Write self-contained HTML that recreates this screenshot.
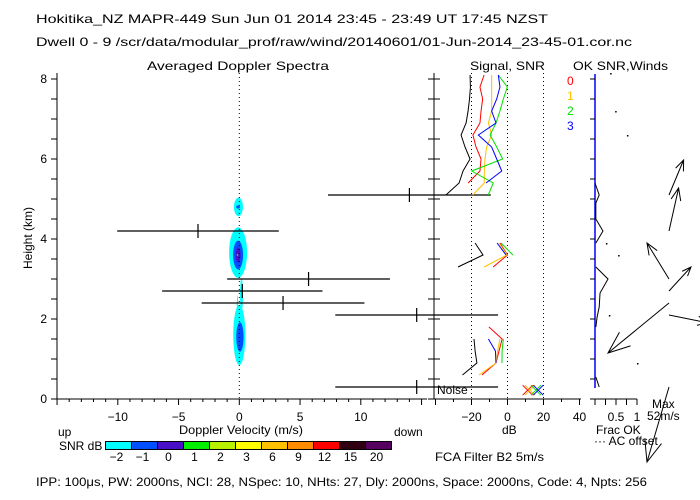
<!DOCTYPE html>
<html><head><meta charset="utf-8"><style>
html,body{margin:0;padding:0;background:#fff;}
svg{display:block;font-family:"Liberation Sans",sans-serif;}
text{font-size:12px;fill:#000;}
</style></head><body>
<svg id="c" width="700" height="500" viewBox="0 0 700 500" xmlns="http://www.w3.org/2000/svg">
<rect width="700" height="500" fill="#fff"/>
<text x="36" y="23" font-size="13" textLength="512" lengthAdjust="spacingAndGlyphs">Hokitika_NZ  MAPR-449  Sun Jun 01 2014 23:45 - 23:49 UT 17:45 NZST</text>
<text x="36" y="46" font-size="13" textLength="596" lengthAdjust="spacingAndGlyphs">Dwell  0 -  9   /scr/data/modular_prof/raw/wind/20140601/01-Jun-2014_23-45-01.cor.nc</text>
<text x="147" y="70" font-size="13" textLength="182" lengthAdjust="spacingAndGlyphs">Averaged Doppler Spectra</text>
<text x="470" y="70" font-size="13" textLength="75" lengthAdjust="spacingAndGlyphs">Signal, SNR</text>
<text x="573" y="70" font-size="13" textLength="95" lengthAdjust="spacingAndGlyphs">OK SNR,Winds</text>
<text transform="translate(32,238) rotate(-90)" text-anchor="middle">Height (km)</text>
<text x="179" y="434" textLength="124" lengthAdjust="spacingAndGlyphs">Doppler Velocity (m/s)</text>
<text x="58" y="436">up</text>
<text x="394" y="436">down</text>
<text x="59" y="450">SNR dB</text>
<text x="502" y="434">dB</text>
<text x="596" y="434">Frac OK</text>
<text x="594" y="445">··· AC offset</text>
<text x="652" y="408">Max</text>
<text x="647" y="420">52m/s</text>
<text x="435" y="461" textLength="109" lengthAdjust="spacingAndGlyphs">FCA Filter B2   5m/s</text>
<text x="437" y="394">Noise</text>
<text x="36" y="486" textLength="611" lengthAdjust="spacingAndGlyphs">IPP: 100μs,  PW: 2000ns,  NCI:  28,  NSpec: 10, NHts: 27,  Dly: 2000ns,  Space: 2000ns,  Code: 4,  Npts: 256</text>
<text x="567" y="85" style="fill:#f00">0</text>
<text x="567" y="100" style="fill:#ffc000">1</text>
<text x="567" y="115" style="fill:#00e000">2</text>
<text x="567" y="130" style="fill:#0000ff">3</text>
</svg>
<script>
// ---------- data ----------
var yTicks = [0,2,4,6,8];
var vTicks = [-10,-5,0,5,10];
var dbTicks = [-20,0,20,40];
var fracTickLabels = [0.5,1];
var cbLabels = ["-2","-1","0","1","2","3","6","9","12","15","20"];
var cbColors = ["#00ffff","#0050ff","#4a10c8","#00f000","#b8f000","#ffff00","#ffc000","#ff8c00","#ff0000","#300010","#560060"];
// spectra blobs: height center, half height (km), velocity center, half width (m/s), level index
var blobH = [4.8,4.8,3.66,3.6,3.6,3.6,2.6,2.22,1.6,1.55];
var blobHH = [0.23,0.04,0.63,0.36,0.19,0.03,0.42,0.37,0.75,0.37];
var blobV = [-0.07,-0.1,-0.1,-0.1,-0.1,-0.15,0.18,-0.15,0.0,0.05];
var blobHW = [0.37,0.15,0.74,0.41,0.2,0.06,0.12,0.06,0.5,0.3];
var blobLvl = [0,1,0,1,2,3,0,0,0,1];
// spectral moment bars
var barH = [5.1,4.2,3.0,2.7,2.4,2.1,0.3];
var barV = [14.0,-3.4,5.7,0.25,3.6,14.6,14.6];
var barHalf = [6.7,6.65,6.7,6.6,6.7,6.7,6.7];
// signal / SNR profiles (dB)
var sigH1 = [8.1,7.8,7.5,7.2,6.9,6.6,6.3,6.0,5.7,5.4,5.1];
var sigBlack1 = [-20.8,-20.6,-21.1,-21.9,-23,-25.8,-23.6,-20.8,-24.7,-26.9,-34.2];
var snr0a = [-13,-15.3,-13.8,-14.7,-15.3,-19.2,-17.5,-14.7,-15.3,-21.9,null];
var snr1a = [-8.8,-8.8,-8.8,-8.8,-10.6,-8.8,-11.6,-12.5,-12.9,-12.9,-19.3];
var snr2a = [-5.1,-0.1,-2.3,-4.2,-6.4,-9.7,-6,-2.7,-19.9,-7.9,-10.7];
var snr3a = [-5.1,-4.2,-6,-8.8,-6.4,-16.2,-8.8,-6,-3.2,-11.9,null];
var sigH2 = [3.9,3.6,3.3];
var sigBlack2 = [-18,-13.6,-27.5];
var snr0b = [-4.2,0,-8];
var snr1b = [-4.7,-0.3,-13];
var snr2b = [-3.6,3,null];
var snr3b = [-5.8,-0.8,null];
var sigH3 = [1.8,1.5,1.2,0.9,0.6];
var sigBlack3 = [null,-18.6,-18,-17,-25];
var snr0c = [-10.3,-3,-4.7,-6.4,-14.2];
var snr1c = [null,-4.2,-5.5,-6.4,-15.8];
var snr2c = [null,-2.3,-3,-3.1,null];
var snr3c = [null,-10.6,-6.7,-6.4,null];
var noiseDb = [11.2,12.5,15.8,17.1];
var noiseH = 0.22;
// winds
var windH = [5.1,4.2,3.0,2.7,2.4,2.1,0.3];
var windU = [7.3,4.8,-11,11,-30.5,20,-11];
var windV = [17.5,21.5,18,12,-25,-4,-37.5];
// fraction OK
var fracH = [5.4,5.1,4.9,4.5,4.2,3.9,null,3.3,3.0,2.65,2.3,2.05,1.8,null,0.55,0.3];
var fracVal = [0,0.1,0.02,0.02,0.19,0.02,null,0.02,0.31,0.12,0.1,0.05,0.02,null,0.02,0.1];
var dotH = [8.15,7.2,6.6,3.9,3.6,2.1,0.9];
var dotF = [0.36,0.48,0.76,0.26,0.55,0.33,1.0];

// ---------- scales ----------
function Y(h){return 399-40*h;}
function XV(v){return 239.3+12.15*v;}
function XD(d){return 507.5+1.8*d;}
function XF(f){return 595+42*f;}
var WS = 2.0;
var svg = document.getElementById('c');
var NS = 'http://www.w3.org/2000/svg';
function mk(tag, a){var e=document.createElementNS(NS,tag);for(var k in a)e.setAttribute(k,a[k]);svg.appendChild(e);return e;}
function line(x1,y1,x2,y2,col,w,dash){var e=mk('line',{x1:x1,y1:y1,x2:x2,y2:y2,stroke:col||'#000','stroke-width':w||1});if(dash)e.setAttribute('stroke-dasharray',dash);return e;}
function txt(x,y,s,anchor,col){var e=mk('text',{x:x,y:y,'text-anchor':anchor||'middle'});if(col)e.style.fill=col;e.textContent=s;return e;}

// spectra blobs
for(var i=0;i<blobH.length;i++){
  var e=mk('ellipse',{cx:XV(blobV[i]),cy:Y(blobH[i]),rx:12.15*blobHW[i],ry:40*blobHH[i],fill:cbColors[blobLvl[i]]});
  
  
}
var z=line(XV(0),73,XV(0),399,'#000',1,'1 3');


[-20,0,20].forEach(function(d){
  var l=line(XD(d),73,XD(d),399,'#000',1,'1 3');
  
  
});
var ax=line(57,73,57,399);
var ax2=line(434,73,434,399);
var bx=line(57,399,427,399);
var bx2=line(434,399,581,399);
var bx3=line(595,399,637,399);
var bl=line(595,74,595,388,'#0000ff',1.5);
for(var h=0;h<=8.01;h+=0.5){
  line(51,Y(h),57,Y(h));line(428,Y(h),440,Y(h));line(590,Y(h),595,Y(h));
}
yTicks.forEach(function(h){var t=txt(47,Y(h)+4,String(h),'end');});
for(var v=-15;v<=15;v++){line(XV(v),399,XV(v),v%5==0?405:402);}
vTicks.forEach(function(v){var t=txt(XV(v),421,String(v).replace('-','−'));});
for(var d=-40;d<=40;d+=10){line(XD(d),399,XD(d),d%20==0?405:402);}
dbTicks.forEach(function(d){var t=txt(XD(d),421,String(d).replace('-','−'));});
for(var f=0;f<=1.001;f+=0.25){line(XF(f),399,XF(f),405);}
fracTickLabels.forEach(function(f){var t=txt(XF(f),421,String(f));});

for(var i=0;i<barH.length;i++){
  var y=Y(barH[i]);
  var b=line(XV(barV[i]-barHalf[i]),y,XV(barV[i]+barHalf[i]),y,'#000',1.2);
  
  
  var c=line(XV(barV[i]),y-7,XV(barV[i]),y+7,'#000',1.2);
  
  
}
function prof(H,vals,col,name){
  var seg=[];
  function flush(){if(seg.length>1){var p=mk('polyline',{points:seg.join(' '),fill:'none',stroke:col,'stroke-width':1});
    
    }seg=[];}
  for(var i=0;i<H.length;i++){if(vals[i]==null||H[i]==null){flush();continue;}seg.push(XD(vals[i])+','+Y(H[i]));}
  flush();
}
var cols=['#ff0000','#ffc000','#00e000','#0000ff'];
prof(sigH1,sigBlack1,'#000','signal-profile');prof(sigH2,sigBlack2,'#000','signal-profile');prof(sigH3,sigBlack3,'#000','signal-profile');
[[snr0a,snr0b,snr0c],[snr1a,snr1b,snr1c],[snr2a,snr2b,snr2c],[snr3a,snr3b,snr3c]].forEach(function(s,k){
  prof(sigH1,s[0],cols[k],'snr-beam-'+k);prof(sigH2,s[1],cols[k],'snr-beam-'+k);prof(sigH3,s[2],cols[k],'snr-beam-'+k);
});
for(var k=0;k<noiseDb.length;k++){
  var x=XD(noiseDb[k]),y=Y(noiseH);
  var m=mk('path',{d:'M'+(x-5)+' '+(y-5)+'L'+(x+5)+' '+(y+5)+'M'+(x+5)+' '+(y-5)+'L'+(x-5)+' '+(y+5),stroke:cols[k],'stroke-width':1,fill:'none'});
  
  
}
(function(){var seg=[];function fl(){if(seg.length>1){var p=mk('polyline',{points:seg.join(' '),fill:'none',stroke:'#000'});
  
  }seg=[];}
 for(var i=0;i<fracH.length;i++){if(fracH[i]==null){fl();continue;}seg.push(XF(fracVal[i])+','+Y(fracH[i]));}fl();})();
for(var i=0;i<dotH.length;i++){var r=mk('rect',{x:XF(dotF[i]),y:Y(dotH[i]),width:1.5,height:1.5,fill:'#000'});
  
  }
for(var i=0;i<windH.length;i++){
  var x0=669,y0=Y(windH[i]),x1=x0+WS*windU[i],y1=y0-WS*windV[i];
  var L=Math.hypot(x1-x0,y1-y0),hl=0.3*L,ang=Math.atan2(y0-y1,x0-x1),a=0.38;
  var d='M'+x0+' '+y0+'L'+x1+' '+y1+'M'+(x1+hl*Math.cos(ang+a))+' '+(y1+hl*Math.sin(ang+a))+'L'+x1+' '+y1+'L'+(x1+hl*Math.cos(ang-a))+' '+(y1+hl*Math.sin(ang-a));
  var w=mk('path',{d:d,stroke:'#000','stroke-width':1,fill:'none'});
  
  
}
for(var i=0;i<cbColors.length;i++){
  var r=mk('rect',{x:105.5+26*i,y:441.5,width:26,height:8,fill:cbColors[i],stroke:'#000','stroke-width':1});
  
  
  var t=txt(105.5+26*i+11,461,cbLabels[i].replace('-','−'));
  
  
}
</script>
</body></html>
